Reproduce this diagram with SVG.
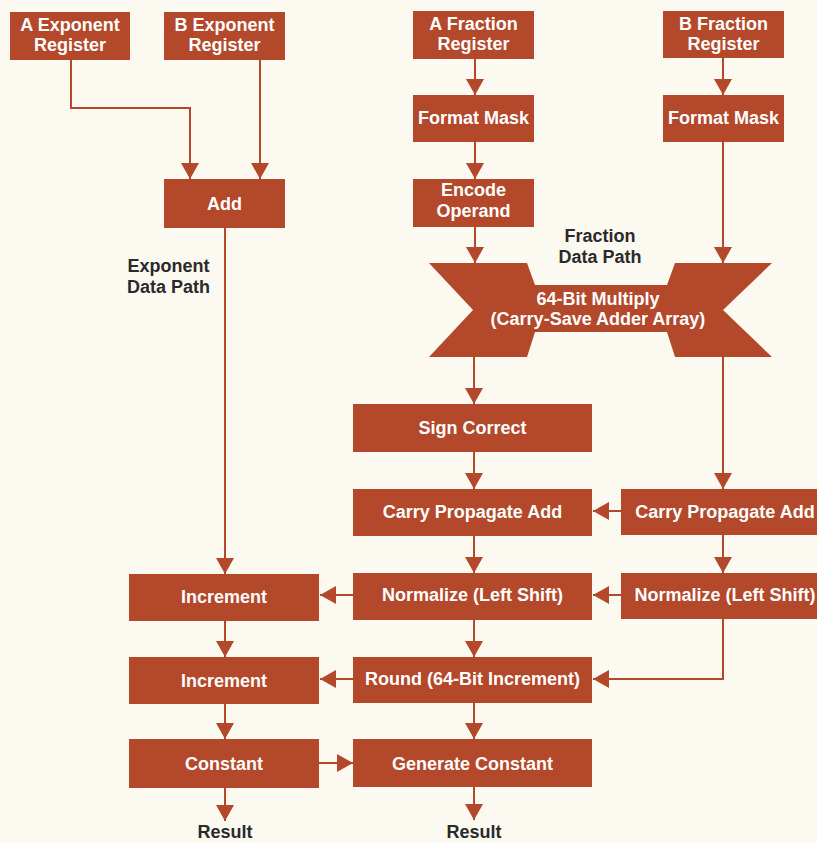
<svg xmlns="http://www.w3.org/2000/svg" width="817" height="843" viewBox="0 0 817 843">
  <style>
    .box { fill: #B3482B; }
    .bt { fill: #FFFFFF; font-family: "Liberation Sans", Arial, sans-serif; font-weight: bold; font-size: 18px; text-anchor: middle; }
    .lbl { fill: #2A2A2A; font-family: "Liberation Sans", Arial, sans-serif; font-weight: bold; font-size: 18px; text-anchor: middle; }
    .wire { fill: none; stroke: #B3482B; stroke-width: 2; marker-end: url(#tip); }
  </style>
  <defs>
    <marker id="tip" viewBox="0 0 16 18" refX="16" refY="9" markerWidth="16" markerHeight="18" markerUnits="userSpaceOnUse" orient="auto">
      <path d="M0,0 L16,9 L0,18 Z" fill="#B3482B"/>
    </marker>
  </defs>

  <rect width="817" height="843" fill="#FCF9F1"/>

  <!-- exponent side -->
  <g id="a-exp-reg">
    <rect class="box" x="10" y="12" width="120" height="48"/>
    <text class="bt" x="70" y="31">A Exponent</text>
    <text class="bt" x="70" y="51">Register</text>
  </g>
  <g id="b-exp-reg">
    <rect class="box" x="164" y="12" width="121" height="48"/>
    <text class="bt" x="224.5" y="31">B Exponent</text>
    <text class="bt" x="224.5" y="51">Register</text>
  </g>
  <g id="exp-add">
    <rect class="box" x="164" y="179" width="121" height="49"/>
    <text class="bt" x="224.5" y="210">Add</text>
  </g>
  <g id="exp-label">
    <text class="lbl" x="168.5" y="272">Exponent</text>
    <text class="lbl" x="168.5" y="293">Data Path</text>
  </g>
  <g id="inc-1">
    <rect class="box" x="129" y="574" width="190" height="47"/>
    <text class="bt" x="224" y="603">Increment</text>
  </g>
  <g id="inc-2">
    <rect class="box" x="129" y="657" width="190" height="47"/>
    <text class="bt" x="224" y="687">Increment</text>
  </g>
  <g id="constant">
    <rect class="box" x="129" y="739" width="190" height="49"/>
    <text class="bt" x="224" y="770">Constant</text>
  </g>
  <g id="exp-result">
    <text class="lbl" x="225" y="838">Result</text>
  </g>

  <!-- fraction side -->
  <g id="a-frac-reg">
    <rect class="box" x="413" y="11" width="121" height="48"/>
    <text class="bt" x="473.5" y="30">A Fraction</text>
    <text class="bt" x="473.5" y="50">Register</text>
  </g>
  <g id="a-mask">
    <rect class="box" x="413" y="95" width="121" height="47"/>
    <text class="bt" x="473.5" y="124">Format Mask</text>
  </g>
  <g id="encode">
    <rect class="box" x="413" y="179" width="121" height="48"/>
    <text class="bt" x="473.5" y="196">Encode</text>
    <text class="bt" x="473.5" y="217">Operand</text>
  </g>
  <g id="b-frac-reg">
    <rect class="box" x="663" y="11" width="121" height="47"/>
    <text class="bt" x="723.5" y="30">B Fraction</text>
    <text class="bt" x="723.5" y="50">Register</text>
  </g>
  <g id="b-mask">
    <rect class="box" x="663" y="95" width="121" height="47"/>
    <text class="bt" x="723.5" y="124">Format Mask</text>
  </g>
  <g id="frac-label">
    <text class="lbl" x="600" y="242">Fraction</text>
    <text class="lbl" x="600" y="263">Data Path</text>
  </g>
  <g id="multiply">
    <polygon class="box" points="429,263 527,263 535,285 667,285 675,263 772,263 723,310 772,357 675,357 667,332 535,332 527,357 429,357 473,310"/>
    <text class="bt" x="598" y="305">64-Bit Multiply</text>
    <text class="bt" x="598" y="325">(Carry-Save Adder Array)</text>
  </g>
  <g id="sign-correct">
    <rect class="box" x="353" y="404" width="239" height="48"/>
    <text class="bt" x="472.5" y="434">Sign Correct</text>
  </g>
  <g id="cpa-left">
    <rect class="box" x="353" y="489" width="239" height="47"/>
    <text class="bt" x="472.5" y="518">Carry Propagate Add</text>
  </g>
  <g id="cpa-right">
    <rect class="box" x="621" y="489" width="206" height="46"/>
    <text class="bt" x="725" y="518">Carry Propagate Add</text>
  </g>
  <g id="norm-left">
    <rect class="box" x="353" y="573" width="239" height="47"/>
    <text class="bt" x="472.5" y="601">Normalize (Left Shift)</text>
  </g>
  <g id="norm-right">
    <rect class="box" x="621" y="573" width="206" height="46"/>
    <text class="bt" x="725" y="601">Normalize (Left Shift)</text>
  </g>
  <g id="round">
    <rect class="box" x="353" y="657" width="239" height="46"/>
    <text class="bt" x="472.5" y="685">Round (64-Bit Increment)</text>
  </g>
  <g id="gen-constant">
    <rect class="box" x="353" y="739" width="239" height="48"/>
    <text class="bt" x="472.5" y="770">Generate Constant</text>
  </g>
  <g id="frac-result">
    <text class="lbl" x="474" y="838">Result</text>
  </g>

  <!-- connectors -->
  <g id="connectors">
    <path class="wire" d="M71,60 V108 H190 V179"/>
    <path class="wire" d="M260,60 V179"/>
    <path class="wire" d="M225,228 V574"/>
    <path class="wire" d="M225,621 V657"/>
    <path class="wire" d="M225,704 V739"/>
    <path class="wire" d="M225,788 V821"/>
    <path class="wire" d="M353,595 H320"/>
    <path class="wire" d="M353,679 H320"/>
    <path class="wire" d="M319,763 H353"/>

    <path class="wire" d="M475,59 V95"/>
    <path class="wire" d="M475,142 V179"/>
    <path class="wire" d="M475,227 V263"/>
    <path class="wire" d="M474,357 V404"/>
    <path class="wire" d="M474,452 V489"/>
    <path class="wire" d="M474,536 V573"/>
    <path class="wire" d="M474,620 V657"/>
    <path class="wire" d="M474,703 V739"/>
    <path class="wire" d="M474,787 V820"/>

    <path class="wire" d="M723,58 V95"/>
    <path class="wire" d="M723,142 V263"/>
    <path class="wire" d="M723,357 V489"/>
    <path class="wire" d="M723,535 V573"/>
    <path class="wire" d="M621,511 H593"/>
    <path class="wire" d="M621,595 H593"/>
    <path class="wire" d="M723,619 V679 H593"/>
  </g>
</svg>
